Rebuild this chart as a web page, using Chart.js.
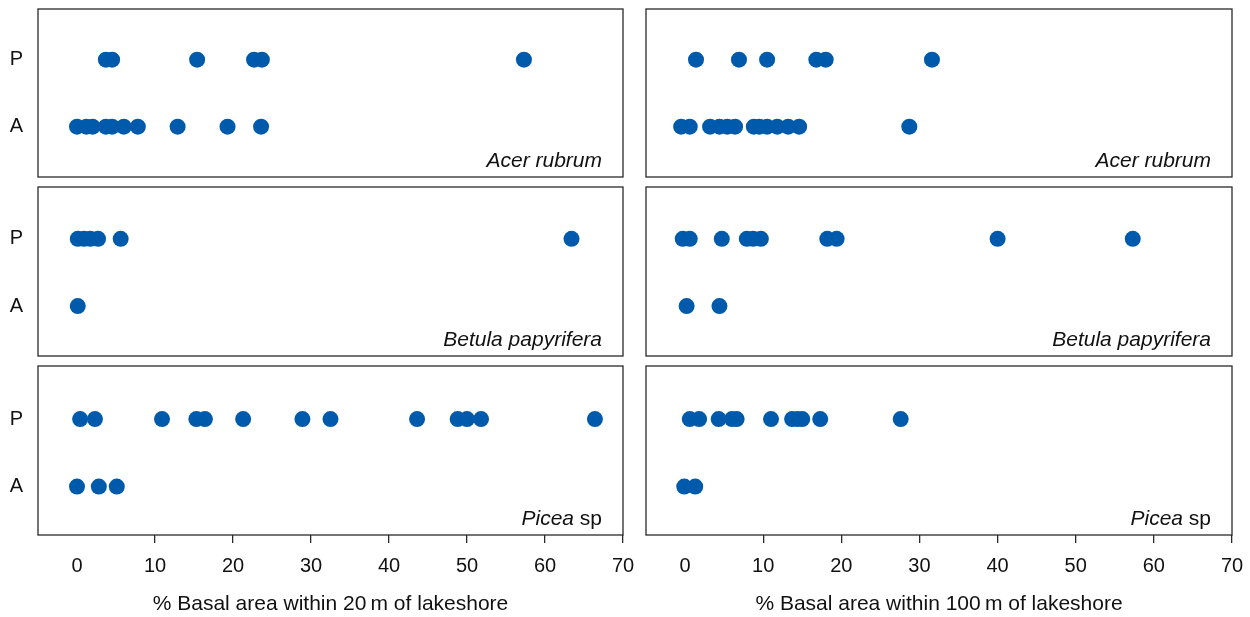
<!DOCTYPE html>
<html><head><meta charset="utf-8">
<script src="https://cdn.jsdelivr.net/npm/chart.js@4"></script>
<style>
html,body{margin:0;padding:0;background:#fff;}
#wrap{position:relative;width:1250px;height:617px;overflow:hidden;}
.cell{position:absolute;}
</style></head><body><div id="wrap"></div>
<script>
// ---------- DATA ----------
const xTickValues = [0, 10, 20, 30, 40, 50, 60, 70];
const rowLabels = ['A', 'P'];           // y = 0 -> A, y = 1 -> P
const speciesGenus = ['Acer rubrum', 'Betula papyrifera', 'Picea'];
const speciesSuffix = ['', '', ' sp'];
const axisTitles = ['% Basal area within 20\u2009m of lakeshore', '% Basal area within 100\u2009m of lakeshore'];

// within 20 m of lakeshore
const acer20P   = [3.7, 4.5, 15.4, 22.7, 23.7, 57.3];
const acer20A   = [0, 1.2, 2.0, 3.7, 4.5, 6.0, 7.8, 12.9, 19.3, 23.6];
const betula20P = [0.1, 0.9, 1.7, 2.7, 5.6, 63.4];
const betula20A = [0.1];
const picea20P  = [0.4, 2.3, 10.9, 15.3, 16.4, 21.3, 28.9, 32.5, 43.6, 48.8, 50.0, 51.8, 66.4];
const picea20A  = [0, 2.8, 5.1];

// within 100 m of lakeshore
const acer100P   = [1.4, 6.9, 10.5, 16.8, 18.0, 31.6];
const acer100A   = [-0.5, 0.6, 3.2, 4.4, 5.4, 6.4, 8.8, 9.5, 10.5, 11.8, 13.2, 14.6, 28.7];
const betula100P = [-0.3, 0.6, 4.7, 7.9, 8.7, 9.7, 18.2, 19.4, 40.0, 57.3];
const betula100A = [0.2, 4.4];
const picea100P  = [0.6, 1.8, 4.3, 6.0, 6.6, 11.0, 13.7, 14.4, 15.0, 17.3, 27.6];
const picea100A  = [-0.1, 1.3];

const panelP = [[acer20P, acer100P], [betula20P, betula100P], [picea20P, picea100P]];
const panelA = [[acer20A, acer100A], [betula20A, betula100A], [picea20A, picea100A]];

// ---------- LAYOUT ----------
const FONT = '"Liberation Sans", Arial, Helvetica, sans-serif';
const COLOR = '#005aab';
const colLeft = [0, 630], colWidth = [640, 620];
const chartLeftIn = [38, 16], padRight = [17, 18];
const panelTop = [9, 187, 366], panelBottom = [177, 356, 535];
const yMinRow = [-0.751, -0.742, -0.717], yMaxRow = [1.757, 1.771, 1.786];

const boxPlugin = {
  id: 'box',
  afterDraw(chart, args, opts) {
    const {ctx, chartArea: a} = chart;
    ctx.save();
    ctx.strokeStyle = '#2a2a2a';
    ctx.lineWidth = 1.3;
    ctx.strokeRect(a.left, a.top, a.right - a.left, a.bottom - a.top);
    // species label
    const fs = 21;
    ctx.fillStyle = '#111';
    ctx.textBaseline = 'alphabetic';
    ctx.textAlign = 'left';
    ctx.font = 'italic ' + fs + 'px ' + FONT;
    const w1 = ctx.measureText(opts.genus).width;
    ctx.font = fs + 'px ' + FONT;
    const w2 = opts.suffix ? ctx.measureText(opts.suffix).width : 0;
    const xr = a.right - 21, yb = a.bottom - 10;
    ctx.font = 'italic ' + fs + 'px ' + FONT;
    ctx.fillText(opts.genus, xr - w1 - w2, yb);
    if (opts.suffix) { ctx.font = fs + 'px ' + FONT; ctx.fillText(opts.suffix, xr - w2, yb); }
    ctx.restore();
  }
};

const wrap = document.getElementById('wrap');
for (let r = 0; r < 3; r++) {
  for (let c = 0; c < 2; c++) {
    const bottomRow = (r === 2);
    const top = panelTop[r] - 8;
    const height = bottomRow ? (617 - top) : (panelBottom[r] - panelTop[r] + 16);
    const div = document.createElement('div');
    div.className = 'cell';
    div.style.left = colLeft[c] + 'px'; div.style.top = top + 'px';
    div.style.width = colWidth[c] + 'px'; div.style.height = height + 'px';
    const cv = document.createElement('canvas');
    div.appendChild(cv);
    wrap.appendChild(div);

    const pData = panelP[r][c].map(v => ({x: v, y: 1}));
    const aData = panelA[r][c].map(v => ({x: v, y: 0}));

    new Chart(cv, {
      type: 'scatter',
      data: {
        datasets: [
          {data: pData, backgroundColor: COLOR, borderWidth: 0, pointRadius: 8, pointHoverRadius: 8},
          {data: aData, backgroundColor: COLOR, borderWidth: 0, pointRadius: 8, pointHoverRadius: 8}
        ]
      },
      options: {
        responsive: true, maintainAspectRatio: false, animation: false, devicePixelRatio: 1,
        layout: {padding: {top: 8, bottom: bottomRow ? 0 : 8, left: c === 0 ? 0 : chartLeftIn[1], right: padRight[c]}},
        plugins: {legend: {display: false}, tooltip: {enabled: false},
                  box: {genus: speciesGenus[r], suffix: speciesSuffix[r]}},
        scales: {
          x: {
            type: 'linear', min: -5, max: 70, display: bottomRow,
            afterBuildTicks: s => { s.ticks = xTickValues.map(v => ({value: v})); },
            afterFit: s => { s.height = bottomRow ? 82 : 0; s.paddingLeft = 0; s.paddingRight = 0; },
            grid: {display: true, drawOnChartArea: false, drawTicks: true, tickLength: 8,
                   color: ctx => (ctx.tick && ctx.tick.value === 0) ? 'rgba(0,0,0,0)' : '#2a2a2a', lineWidth: 1.3},
            border: {display: false},
            ticks: {color: '#111', font: {family: FONT, size: 20}, padding: 11, maxRotation: 0, autoSkip: false},
            title: {display: true, text: axisTitles[c], color: '#111', font: {family: FONT, size: 21}, padding: {top: 0, bottom: 0}}
          },
          y: {
            type: 'linear', min: yMinRow[r], max: yMaxRow[r], display: c === 0,
            afterBuildTicks: s => { s.ticks = [{value: 0}, {value: 1}]; },
            afterFit: s => { s.width = (c === 0) ? chartLeftIn[0] : 0; s.paddingTop = 0; s.paddingBottom = 0; },
            grid: {display: false, drawTicks: false},
            border: {display: false},
            ticks: {color: '#111', font: {family: FONT, size: 20}, padding: 15,
                    callback: v => rowLabels[v] !== undefined ? rowLabels[v] : ''}
          }
        }
      },
      plugins: [boxPlugin]
    });
  }
}
</script>
</body></html>
